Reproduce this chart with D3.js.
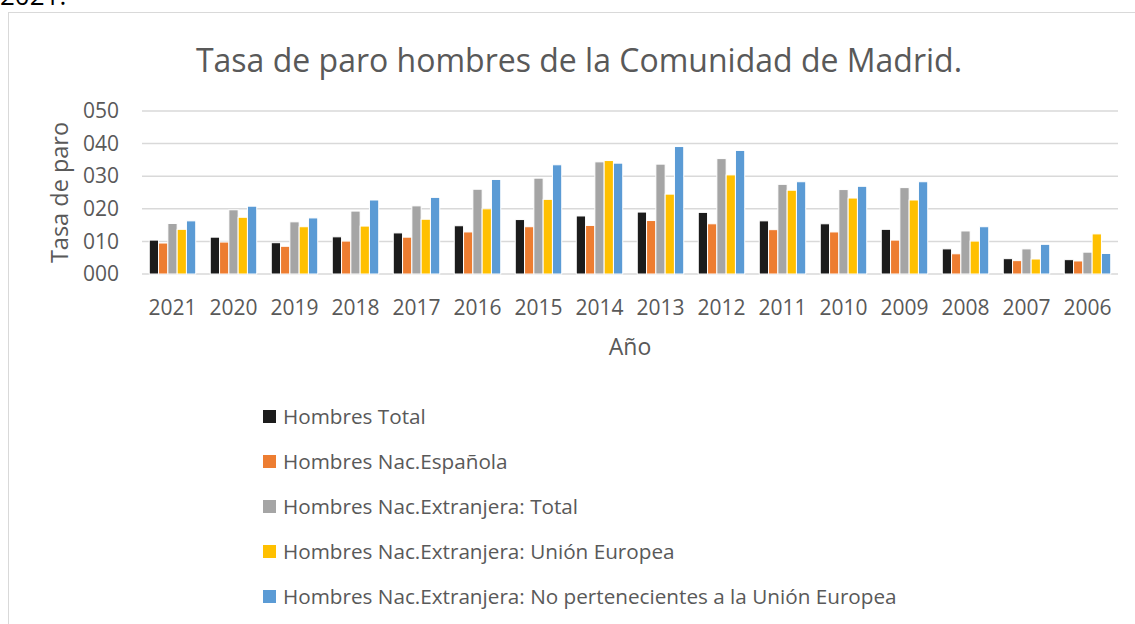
<!DOCTYPE html>
<html>
<head>
<meta charset="utf-8">
<script src="https://cdn.jsdelivr.net/npm/d3@7"></script>
<style>
  html, body { margin: 0; padding: 0; background: #fff; }
  svg { display: block; font-family: "Open Sans", sans-serif; }
</style>
</head>
<body>
<svg id="chart" width="1135" height="624"></svg>
<script>
// Años (eje X, en el orden mostrado)
const years = ["2021","2020","2019","2018","2017","2016","2015","2014","2013","2012","2011","2010","2009","2008","2007","2006"];

// Series de tasa de paro (%)
const seriesNames = [
  "Hombres Total",
  "Hombres Nac.Española",
  "Hombres Nac.Extranjera: Total",
  "Hombres Nac.Extranjera: Unión Europea",
  "Hombres Nac.Extranjera: No pertenecientes a la Unión Europea"
];
const hombresTotal     = [10.4, 11.3,  9.6, 11.4, 12.6, 14.8, 16.7, 17.8, 19.0, 18.9, 16.3, 15.4, 13.7,  7.7, 4.7, 4.4];
const hombresEspanola  = [ 9.5,  9.8,  8.5, 10.1, 11.3, 12.9, 14.5, 14.9, 16.4, 15.4, 13.6, 12.9, 10.4,  6.2, 4.1, 4.0];
const extranjeraTotal  = [15.5, 19.7, 16.0, 19.3, 20.9, 26.0, 29.4, 34.4, 33.7, 35.4, 27.5, 25.9, 26.5, 13.2, 7.7, 6.7];
const extranjeraUE     = [13.7, 17.4, 14.5, 14.7, 16.8, 20.0, 22.9, 34.8, 24.5, 30.4, 25.7, 23.3, 22.7, 10.1, 4.6, 12.3];
const extranjeraNoUE   = [16.3, 20.8, 17.2, 22.7, 23.5, 29.0, 33.5, 34.0, 39.1, 37.9, 28.3, 26.9, 28.3, 14.5, 9.1, 6.3];
const seriesValues = [hombresTotal, hombresEspanola, extranjeraTotal, extranjeraUE, extranjeraNoUE];
const colors = ["#1c1c1c", "#ed7d31", "#a5a5a5", "#ffc000", "#5b9bd5"];

const yTicks = [0, 10, 20, 30, 40, 50];

const svg = d3.select("#chart");
const textColor = "#595959";

// Texto del documento que queda por encima del gráfico
svg.append("text")
  .attr("x", 0).attr("y", 5)
  .attr("font-size", 26).attr("fill", "#000")
  .text("2021.");

// Marco del área del gráfico
svg.append("rect")
  .attr("x", 8.5).attr("y", 12.5)
  .attr("width", 1140).attr("height", 620)
  .attr("fill", "none").attr("stroke", "#d9d9d9").attr("stroke-width", 1);

// Título
svg.append("text")
  .attr("x", 579).attr("y", 72)
  .attr("text-anchor", "middle")
  .attr("font-size", 32).attr("fill", textColor)
  .text("Tasa de paro hombres de la Comunidad de Madrid.");

const plot = { left: 142, right: 1118, top: 111, bottom: 274 };

const x = d3.scaleBand().domain(years).range([plot.left, plot.right]).paddingInner(0.238).paddingOuter(0.119);
const xInner = d3.scaleBand().domain(d3.range(seriesNames.length)).range([0, x.bandwidth()]);
const y = d3.scaleLinear().domain([0, 50]).range([plot.bottom, plot.top]);

// Líneas de cuadrícula
svg.append("g")
  .selectAll("line")
  .data(yTicks)
  .join("line")
  .attr("x1", plot.left).attr("x2", plot.right)
  .attr("y1", d => y(d)).attr("y2", d => y(d))
  .attr("stroke", "#d9d9d9").attr("stroke-width", 1.5);

// Eje Y
const yAxis = svg.append("g")
  .attr("transform", `translate(${plot.left - 23},0)`)
  .call(d3.axisLeft(y).tickValues(yTicks).tickFormat(d3.format("03d")).tickSize(0).tickPadding(0));
yAxis.select(".domain").remove();
yAxis.selectAll("text").attr("font-size", 21).attr("fill", textColor).attr("font-family", "Open Sans, sans-serif");

// Eje X
const xAxis = svg.append("g")
  .attr("transform", `translate(0,${plot.bottom})`)
  .call(d3.axisBottom(x).tickSize(0).tickPadding(0));
xAxis.select(".domain").remove();
xAxis.selectAll("text")
  .attr("y", 41).attr("dy", 0)
  .attr("font-size", 21).attr("fill", textColor).attr("font-family", "Open Sans, sans-serif");

// Barras
const groups = svg.append("g")
  .selectAll("g")
  .data(years)
  .join("g")
  .attr("transform", d => `translate(${x(d)},0)`);

groups.selectAll("rect")
  .data((yr, i) => seriesValues.map((vals, s) => ({ s, v: vals[i] })))
  .join("rect")
  .attr("x", d => xInner(d.s))
  .attr("width", xInner.bandwidth())
  .attr("y", d => y(d.v))
  .attr("height", d => y(0) - y(d.v))
  .attr("fill", d => colors[d.s])
  .attr("stroke", "#fff").attr("stroke-width", 1);

// Títulos de ejes
svg.append("text")
  .attr("transform", `translate(68,${(plot.top + plot.bottom) / 2}) rotate(-90)`)
  .attr("text-anchor", "middle")
  .attr("font-size", 23.5).attr("fill", textColor)
  .text("Tasa de paro");

svg.append("text")
  .attr("x", 630).attr("y", 355)
  .attr("text-anchor", "middle")
  .attr("font-size", 23).attr("fill", textColor)
  .text("Año");

// Leyenda
const legend = svg.append("g")
  .selectAll("g")
  .data(seriesNames)
  .join("g")
  .attr("transform", (d, i) => `translate(263,${416.5 + i * 45})`);

legend.append("rect")
  .attr("x", 0).attr("y", -6.5)
  .attr("width", 13).attr("height", 13)
  .attr("fill", (d, i) => colors[i]);

legend.append("text")
  .attr("x", 20).attr("y", 0)
  .attr("dy", "0.35em")
  .attr("font-size", 20.7).attr("fill", textColor)
  .text(d => d);
</script>
</body>
</html>
